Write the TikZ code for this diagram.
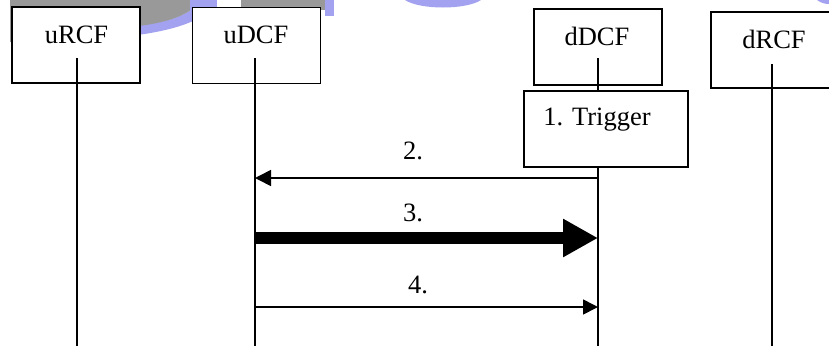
\documentclass[tikz,border=0pt]{standalone}
\usepackage{fontspec}
\setmainfont{Liberation Serif}
\usetikzlibrary{arrows.meta}
\definecolor{wmgray}{RGB}{153,153,153}
\definecolor{wmblue}{RGB}{162,162,240}
\begin{document}
\begin{tikzpicture}[x=1pt,y=-1pt,
  actor/.style={draw,line width=1.6pt,fill=white,inner sep=0pt,minimum width=128pt,minimum height=76pt},
  lbl/.style={font=\fontsize{26.5}{31}\selectfont,inner sep=0pt,anchor=base},
  life/.style={line width=1.6pt},
  msg/.style={line width=1.6pt}]
\useasboundingbox (0,0) rectangle (829,346);
\clip (0,0) rectangle (829,346);
% watermark fragments
\fill[wmblue] (200,0) -- (216,0) .. controls (210,18) and (180,30) .. (130,36) -- (130,26) .. controls (170,23) and (192,14) .. (200,0) -- cycle;
\fill[wmgray] (10,0) -- (200,0) .. controls (192,14) and (170,23) .. (130,27) -- (130,42) -- (10,42) -- cycle;
\fill[wmblue] (190,0) rectangle (217,10);
\fill[wmgray] (241,0) rectangle (325,10);
\fill[wmblue] (325,0) rectangle (334,16);
\fill[wmblue] (405,0) .. controls (420,10) and (466,10) .. (481,0) -- cycle;
\fill[wmblue] (817,0) .. controls (821,3) and (825,4) .. (829,4) -- (829,0) -- cycle;
% actors
\node[actor] (urcf) at (76,45) {};
\node[actor] (udcf) at (256.5,45.5) {};
\node[actor] (ddcf) at (598,47) {};
\node[actor] (drcf) at (775,50) {};
\node[lbl] (urcft) at (76.5,43) {uRCF};
\node[lbl] (udcft) at (256,43) {uDCF};
\node[lbl] (ddcft) at (597,45) {dDCF};
\node[lbl] (drcft) at (774,48) {dRCF};
% lifelines
\coordinate (urcf-a) at (77,58);   \coordinate (urcf-b) at (77,346);
\coordinate (udcf-a) at (255,58);  \coordinate (udcf-b) at (255,346);
\coordinate (ddcf-a) at (598,58);  \coordinate (ddcf-b) at (598,346);
\coordinate (drcf-a) at (772,64);  \coordinate (drcf-b) at (772,346);
\draw[life] (urcf-a) -- (urcf-b);
\draw[life] (udcf-a) -- (udcf-b);
\draw[life] (ddcf-a) -- (ddcf-b);
\draw[life] (drcf-a) -- (drcf-b);
% trigger
\node[draw,line width=1.6pt,fill=white,inner sep=0pt,minimum width=164pt,minimum height=76pt] (trig) at (606,129) {};
\node[lbl] (trigt) at (597,125) {1. Trigger};
% messages
\coordinate (m2a) at (598,178); \coordinate (m2b) at (255,178);
\coordinate (m3a) at (255,238); \coordinate (m3b) at (598,238);
\coordinate (m4a) at (255,307); \coordinate (m4b) at (598,307);
\draw[msg,-{Triangle[length=16pt,width=16pt]}] (m2a) -- (m2b);
\draw[line width=12pt,-{Triangle[length=35pt,width=36pt]}] (m3a) -- (m3b);
\draw[msg,-{Triangle[length=15pt,width=15pt]}] (m4a) -- (m4b);
\node[lbl] (l2) at (413,159) {2.};
\node[lbl] (l3) at (413,221) {3.};
\node[lbl] (l4) at (418,293) {4.};
\end{tikzpicture}
\end{document}
